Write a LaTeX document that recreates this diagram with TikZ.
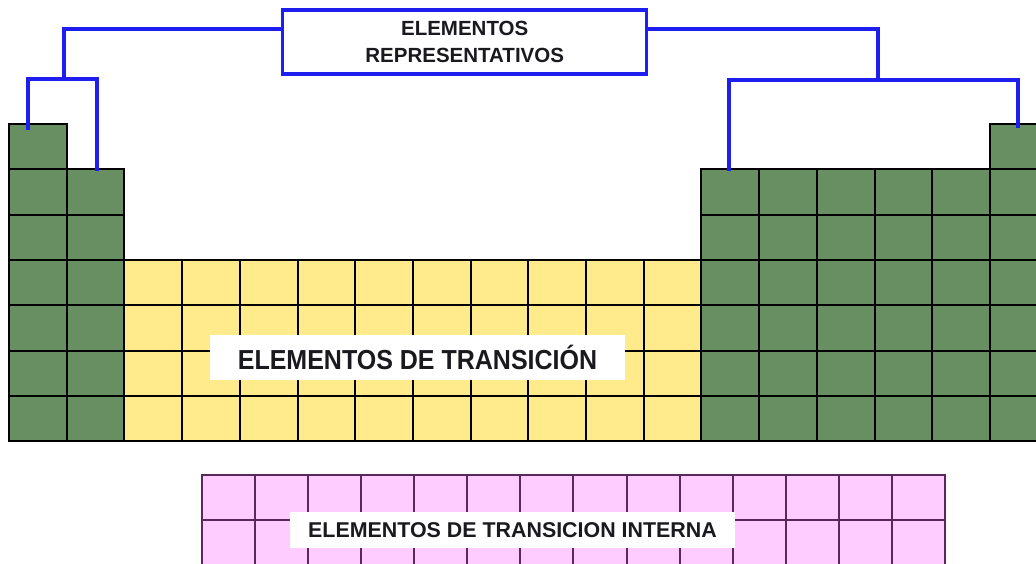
\documentclass[tikz,border=0pt]{standalone}
\usepackage{fontspec}
\setmainfont{Liberation Sans}
\definecolor{grn}{RGB}{104,143,97}
\definecolor{yel}{RGB}{255,234,140}
\definecolor{pnk}{RGB}{255,204,255}
\definecolor{pgrid}{RGB}{90,40,90}
\definecolor{conn}{RGB}{30,30,240}
\definecolor{txt}{RGB}{25,25,30}
\newcommand\gridcell[3]{\draw[#3] ({9+57.7*(#1-1)},{124+45.3*(#2-1)}) rectangle ++(57.7,45.3);}
\begin{document}
\begin{tikzpicture}[x=1pt,y=-1pt,
  cellg/.style={fill=grn,draw=black,line width=2pt},
  celly/.style={fill=yel,draw=black,line width=2pt},
  cellp/.style={fill=pnk,draw=pgrid,line width=2pt},
  connector/.style={draw=conn,line width=3.2pt,line cap=rect},
  label/.style={fill=white,inner sep=0pt,text=txt,font=\bfseries}]
\useasboundingbox (0,0) rectangle (1036,563);
\clip (0,0) rectangle (1036,563);
% green left
\foreach \r in {1,...,7} {\gridcell{1}{\r}{cellg}}
\foreach \r in {2,...,7} {\gridcell{2}{\r}{cellg}}
% yellow transition block
\foreach \c in {3,...,12} {\foreach \r in {4,...,7} {\gridcell{\c}{\r}{celly}}}
% green right
\foreach \c in {13,...,18} {\foreach \r in {2,...,7} {\gridcell{\c}{\r}{cellg}}}
\gridcell{18}{1}{cellg}
% pink inner transition block
\foreach \c in {0,...,13} {\foreach \r in {0,1} {\draw[cellp] ({202+53.07*\c},{475+45*\r}) rectangle ++(53.07,45);}}
% labels
\node[label,minimum width=415pt,minimum height=45pt] (trans) at (417.5,357.5)
  {\scalebox{1}[1.1]{\fontsize{25}{25}\selectfont ELEMENTOS DE TRANSICIÓN}};
\node[label,minimum width=445pt,minimum height=36pt] (inner) at (512.5,530)
  {\fontsize{21.4}{21.4}\selectfont ELEMENTOS DE TRANSICION INTERNA};
\node[draw=conn,line width=3.2pt,fill=white,inner sep=0pt,minimum width=364pt,minimum height=64pt,
  align=center,text=txt,font=\bfseries\fontsize{20.5}{26.5}\selectfont] (rep) at (464.7,42)
  {ELEMENTOS\\REPRESENTATIVOS};
% connector coordinates
\coordinate (lj) at (64,79);
\coordinate (rj) at (878,80);
\coordinate (h1) at (28,128);
\coordinate (g2) at (97,169);
\coordinate (g13) at (729,169);
\coordinate (g18) at (1018,126);
\draw[connector] (rep.west |- 0,29) -| (lj);
\draw[connector] (h1) |- (lj) -| (g2);
\draw[connector] (rep.east |- 0,29) -| (rj);
\draw[connector] (g13) |- (rj) -| (g18);
\end{tikzpicture}
\end{document}
